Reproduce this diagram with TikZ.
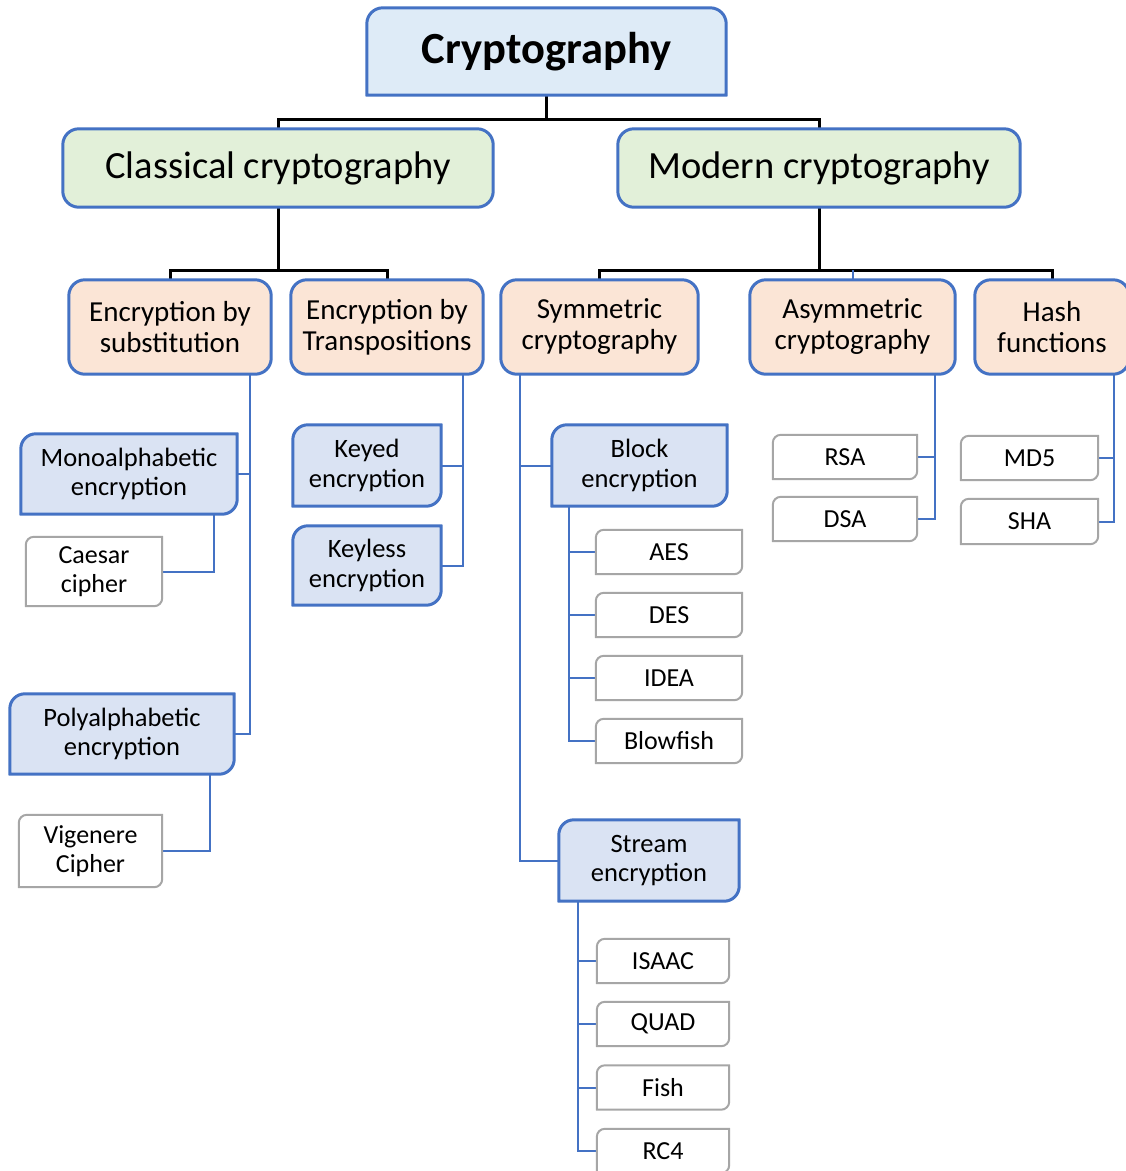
\documentclass[tikz,border=0pt]{standalone}
\usepackage{fontspec}
\setmainfont{Carlito}
\usetikzlibrary{calc,backgrounds}

\definecolor{edgeblue}{RGB}{68,114,196}
\definecolor{rootfill}{RGB}{222,235,247}
\definecolor{greenfill}{RGB}{226,240,217}
\definecolor{orangefill}{RGB}{251,229,214}
\definecolor{bluefill}{RGB}{218,227,243}
\definecolor{greyedge}{RGB}{166,166,166}

% outline of a box with its own radius at each corner: tl, tr, br, bl
\newcommand\shapebox[6]{%
  \path[#2] ($(#1.north west)+(0,-#3)$) arc[start angle=180,end angle=90,radius=#3]
    -- ($(#1.north east)+(-#4,0)$) arc[start angle=90,end angle=0,radius=#4]
    -- ($(#1.south east)+(0,#5)$) arc[start angle=0,end angle=-90,radius=#5]
    -- ($(#1.south west)+(#6,0)$) arc[start angle=-90,end angle=-180,radius=#6]
    -- cycle;}

\tikzset{
  lbl/.style={inner sep=0pt, align=center, text=black},
  rootlbl/.style={lbl, font=\fontsize{44.5}{50}\selectfont\bfseries},
  toplbl/.style={lbl, font=\fontsize{38.5}{44}\selectfont},
  midlbl/.style={lbl, font=\fontsize{29}{31}\selectfont},
  sublbl/.style={lbl, font=\fontsize{26.5}{29.5}\selectfont},
  leaflbl/.style={lbl, font=\fontsize{26}{29.5}\selectfont},
  rootbox/.style={draw=edgeblue, line width=3pt, fill=rootfill},
  greenbox/.style={draw=edgeblue, line width=3pt, fill=greenfill},
  orangebox/.style={draw=edgeblue, line width=3pt, fill=orangefill},
  bluebox/.style={draw=edgeblue, line width=3pt, fill=bluefill},
  whitebox/.style={draw=greyedge, line width=2pt, fill=white},
  trunk/.style={draw=black, line width=3pt},
  branch/.style={draw=edgeblue, line width=2pt},
}

\begin{document}
\begin{tikzpicture}[x=1pt,y=1pt]
\useasboundingbox (0,0) rectangle (1126,-1171);

% ---- labels ----
\node[rootlbl, minimum width=359, minimum height=87] (root) at (546.5,-51.5) {\raisebox{-3pt}{Cryptography}};

\node[toplbl, minimum width=430, minimum height=78] (classical) at (278,-168) {Classical cryptography};
\node[toplbl, minimum width=402, minimum height=78] (modern) at (819,-168) {Modern cryptography};

\node[midlbl, minimum width=202, minimum height=94] (subst) at (170,-327) {Encryption by\\substitution};
\node[midlbl, minimum width=192, minimum height=94] (transp) at (387,-327) {Encryption by\\Transpositions};
\node[midlbl, minimum width=197, minimum height=94] (sym) at (599.5,-327) {Symmetric\\cryptography};
\node[midlbl, minimum width=205, minimum height=94] (asym) at (852.5,-327) {Asymmetric\\cryptography};
\node[midlbl, minimum width=154, minimum height=94] (hash) at (1052,-327) {Hash\\functions};

\node[sublbl, minimum width=216, minimum height=80] (mono) at (129,-474) {Monoalphabetic\\encryption};
\node[leaflbl, minimum width=136, minimum height=69] (caesar) at (94,-571.5) {Caesar\\cipher};
\node[sublbl, minimum width=224, minimum height=80] (poly) at (122,-734) {Polyalphabetic\\encryption};
\node[leaflbl, minimum width=143, minimum height=72] (vig) at (90.5,-851) {Vigenere\\Cipher};

\node[sublbl, minimum width=148, minimum height=81] (keyed) at (367,-465.5) {Keyed\\encryption};
\node[sublbl, minimum width=148, minimum height=79] (keyless) at (367,-565.5) {Keyless\\encryption};

\node[sublbl, minimum width=175, minimum height=81] (block) at (639.5,-465.5) {Block\\encryption};
\node[leaflbl, minimum width=146, minimum height=44] (aes) at (669,-552) {AES};
\node[leaflbl, minimum width=146, minimum height=44] (des) at (669,-615) {DES};
\node[leaflbl, minimum width=146, minimum height=44] (idea) at (669,-678) {IDEA};
\node[leaflbl, minimum width=146, minimum height=44] (blowfish) at (669,-741) {Blowfish};

\node[sublbl, minimum width=180, minimum height=81] (stream) at (649,-860.5) {Stream\\encryption};
\node[leaflbl, minimum width=132, minimum height=44] (isaac) at (663,-961) {ISAAC};
\node[leaflbl, minimum width=132, minimum height=44] (quad) at (663,-1024) {QUAD};
\node[leaflbl, minimum width=132, minimum height=44] (fish) at (663,-1087.5) {Fish};
\node[leaflbl, minimum width=132, minimum height=44] (rc4) at (663,-1151) {RC4};

\node[leaflbl, minimum width=144, minimum height=44] (rsa) at (845,-457) {RSA};
\node[leaflbl, minimum width=144, minimum height=44] (dsa) at (845,-519) {DSA};
\node[leaflbl, minimum width=137, minimum height=44] (md5) at (1029.5,-458) {MD5};
\node[leaflbl, minimum width=137, minimum height=45] (sha) at (1029.5,-521.5) {SHA};

% ---- boxes and connectors, behind the labels ----
\begin{scope}[on background layer]
  \fill[white] (0,0) rectangle (1126,-1171);

  % black trunk lines
  \coordinate (j0) at ($(root.south)+(0,-24)$);
  \coordinate (j1) at ($(classical.south)+(0,-63)$);
  \coordinate (j2) at ($(modern.south)+(0,-63)$);
  \path[trunk] (root.south) -- (j0);
  \path[trunk] (classical.north) |- (j0) -| (modern.north);
  \path[trunk] (classical.south) -- (j1);
  \path[trunk] (subst.north) |- (j1) -| (transp.north);
  \path[trunk] (modern.south) -- (j2);
  \path[trunk] (sym.north) |- (j2) -| (hash.north);
  \path[branch] (asym.north) -- (asym.north |- j2);

  % blue side branches
  \path[branch] (mono.east) -| ($(subst.south east)+(-21,0)$);
  \path[branch] (poly.east) -| ($(subst.south east)+(-21,0)$);
  \path[branch] (caesar.east) -| ($(mono.south east)+(-23,0)$);
  \path[branch] (vig.east) -| ($(poly.south east)+(-24,0)$);

  \path[branch] (keyed.east) -| ($(transp.south east)+(-20,0)$);
  \path[branch] (keyless.east) -| ($(transp.south east)+(-20,0)$);

  \path[branch] (block.west) -| ($(sym.south west)+(19,0)$);
  \path[branch] (stream.west) -| ($(sym.south west)+(19,0)$);
  \foreach \n in {aes,des,idea,blowfish}
    {\path[branch] (\n.west) -| ($(block.south west)+(17,0)$);}
  \foreach \n in {isaac,quad,fish,rc4}
    {\path[branch] (\n.west) -| ($(stream.south west)+(19,0)$);}

  \path[branch] (rsa.east) -| ($(asym.south east)+(-20,0)$);
  \path[branch] (dsa.east) -| ($(asym.south east)+(-20,0)$);
  \path[branch] (md5.east) -| ($(hash.south east)+(-15,0)$);
  \path[branch] (sha.east) -| ($(hash.south east)+(-15,0)$);

  % box outlines
  \shapebox{root}{rootbox}{16}{16}{0.01}{0.01}
  \foreach \n in {classical,modern}
    {\shapebox{\n}{greenbox}{16}{16}{16}{16}}
  \foreach \n in {subst,transp,sym,asym,hash}
    {\shapebox{\n}{orangebox}{16}{16}{16}{16}}
  \foreach \n in {mono,poly,keyed,keyless,block,stream}
    {\shapebox{\n}{bluebox}{15}{0.01}{15}{0.01}}
  \foreach \n in {caesar,vig,aes,des,idea,blowfish,isaac,quad,fish,rc4,rsa,dsa,md5,sha}
    {\shapebox{\n}{whitebox}{8}{0.01}{8}{0.01}}
\end{scope}
\end{tikzpicture}
\end{document}
